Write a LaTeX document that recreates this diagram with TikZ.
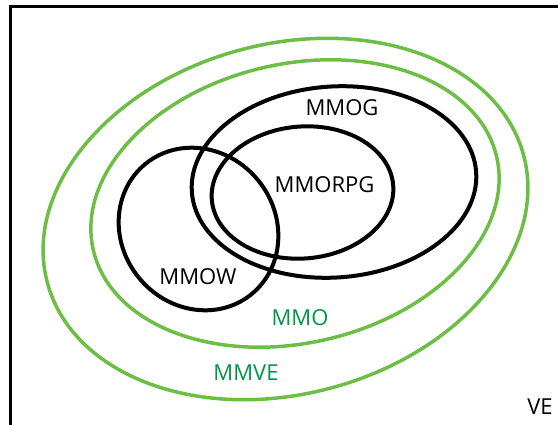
\documentclass[tikz,border=0pt]{standalone}
\usepackage{fontspec}
\setmainfont{Open Sans}
\usetikzlibrary{shapes.geometric}
\definecolor{ringgreen}{RGB}{108,190,69}
\definecolor{labelgreen}{RGB}{0,150,70}
\tikzstyle{ring} = [ellipse, draw=black, line width=4pt, inner sep=0pt]
\tikzstyle{greenring} = [ring, draw=ringgreen, line width=3.5pt]
\tikzstyle{setlabel} = [font=\fontsize{22}{26}\selectfont, inner sep=0pt]
\tikzstyle{greenlabel} = [setlabel, text=labelgreen]

\begin{document}
\begin{tikzpicture}[x=1pt, y=-1pt]
        \useasboundingbox (0,0) rectangle (558,424);
        \clip (0,0) rectangle (558,424);
        \draw[line width=2.5pt] (10.5,6.5) rectangle (580,450);

        % Green rings
        \node[greenring, minimum width=493pt, minimum height=350pt, rotate=15] (mmve) at (285.5,219) {};
        \node[greenring, minimum width=414pt, minimum height=279pt, rotate=13] (mmo) at (295,203.5) {};

        % Black rings
        \node[ring, minimum width=285pt, minimum height=191pt, rotate=4] (mmog) at (334,182) {};
        \node[ring, minimum width=182pt, minimum height=132pt, rotate=4.6] (mmorpg) at (302.5,192.5) {};
        \node[ring, minimum width=168pt, minimum height=154pt, rotate=-51] (mmow) at (198.5,229) {};

        % Text Labels
        \node[setlabel] (mmoglabel) at (342,108) {MMOG};
        \node[setlabel] (mmorpglabel) at (324.5,185) {MMORPG};
        \node[setlabel] (mmowlabel) at (198,276.5) {MMOW};
        \node[greenlabel] (mmolabel) at (300,318) {MMO};
        \node[greenlabel] (mmvelabel) at (246,373) {MMVE};
        \node[setlabel] (velabel) at (540,406.5) {VE};

    \end{tikzpicture}
\end{document}
